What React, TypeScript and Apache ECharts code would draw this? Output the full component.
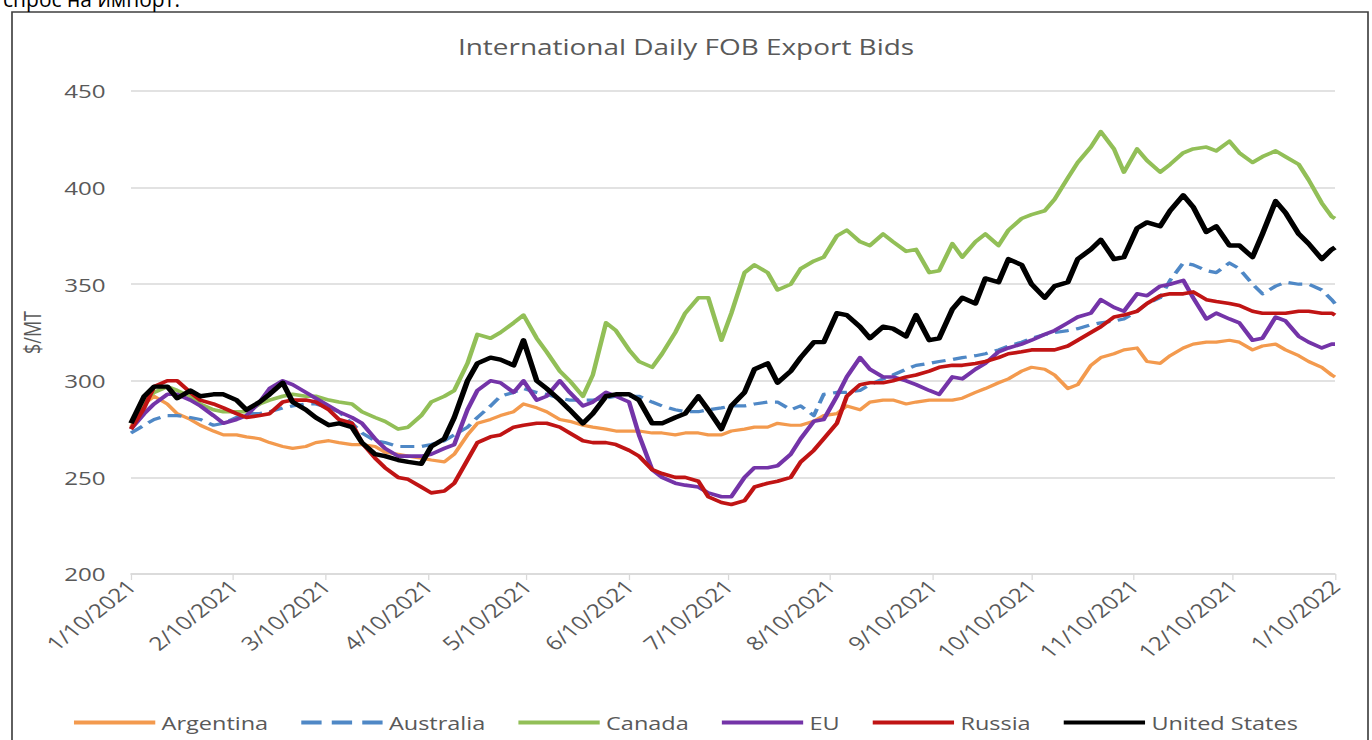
import React, { useEffect, useRef } from "react";
import * as echarts from "echarts";

const dates = [
  "2021-01-10", "2021-01-14", "2021-01-17", "2021-01-21", "2021-01-24", "2021-01-28", "2021-01-31",
  "2021-02-04", "2021-02-07", "2021-02-11", "2021-02-14", "2021-02-18", "2021-02-21", "2021-02-25", "2021-02-28",
  "2021-03-04", "2021-03-07", "2021-03-11", "2021-03-14", "2021-03-18", "2021-03-21", "2021-03-25", "2021-03-28",
  "2021-04-01", "2021-04-04", "2021-04-08", "2021-04-11", "2021-04-15", "2021-04-18", "2021-04-22", "2021-04-25", "2021-04-29",
  "2021-05-02", "2021-05-06", "2021-05-09", "2021-05-13", "2021-05-16", "2021-05-20", "2021-05-23", "2021-05-27", "2021-05-30",
  "2021-06-03", "2021-06-06", "2021-06-10", "2021-06-13", "2021-06-17", "2021-06-20", "2021-06-24", "2021-06-27",
  "2021-07-01", "2021-07-04", "2021-07-08", "2021-07-11", "2021-07-15", "2021-07-18", "2021-07-22", "2021-07-25", "2021-07-29",
  "2021-08-01", "2021-08-05", "2021-08-08", "2021-08-12", "2021-08-15", "2021-08-19", "2021-08-22", "2021-08-26", "2021-08-29",
  "2021-09-02", "2021-09-05", "2021-09-09", "2021-09-12", "2021-09-16", "2021-09-19", "2021-09-23", "2021-09-26", "2021-09-30",
  "2021-10-03", "2021-10-07", "2021-10-10", "2021-10-14", "2021-10-17", "2021-10-21", "2021-10-24", "2021-10-28", "2021-10-31",
  "2021-11-04", "2021-11-07", "2021-11-11", "2021-11-14", "2021-11-18", "2021-11-21", "2021-11-25", "2021-11-28",
  "2021-12-02", "2021-12-05", "2021-12-09", "2021-12-12", "2021-12-16", "2021-12-19", "2021-12-23", "2021-12-26", "2021-12-30",
  "2022-01-02", "2022-01-06", "2022-01-09", "2022-01-10",
];

const argentina = [
  276, 288, 292, 288, 283, 280, 277, 274, 272, 272,
  271, 270, 268, 266, 265, 266, 268, 269, 268, 267,
  267, 266, 263, 262, 261, 260, 259, 258, 262, 272,
  278, 280, 282, 284, 288, 286, 284, 280, 279, 277,
  276, 275, 274, 274, 274, 273, 273, 272, 273, 273,
  272, 272, 274, 275, 276, 276, 278, 277, 277, 279,
  282, 283, 287, 285, 289, 290, 290, 288, 289, 290,
  290, 290, 291, 294, 296, 299, 301, 305, 307, 306,
  303, 296, 298, 308, 312, 314, 316, 317, 310, 309,
  313, 317, 319, 320, 320, 321, 320, 316, 318, 319,
  316, 313, 310, 307, 303, 302,
];
const australia = [
  273, 277, 280, 282, 282, 281, 280, 277, 278, 281,
  283, 283, 284, 286, 287, 288, 288, 286, 284, 278,
  273, 269, 268, 266, 266, 266, 267, 269, 272, 276,
  281, 287, 292, 294, 296, 294, 293, 291, 290, 290,
  290, 291, 292, 292, 292, 289, 287, 285, 284, 284,
  285, 286, 287, 287, 288, 289, 289, 285, 287, 282,
  293, 294, 294, 295, 298, 301, 303, 306, 308, 309,
  310, 311, 312, 313, 314, 316, 318, 320, 322, 324,
  325, 326, 327, 329, 330, 331, 332, 336, 340, 343,
  352, 361, 360, 357, 356, 361, 358, 350, 345, 349,
  351, 350, 350, 347, 342, 340,
];
const canada = [
  278, 290, 294, 297, 295, 292, 288, 285, 284, 284,
  284, 288, 290, 292, 293, 292, 292, 290, 289, 288,
  284, 281, 279, 275, 276, 282, 289, 292, 295, 309,
  324, 322, 325, 330, 334, 322, 315, 305, 300, 292,
  303, 330, 326, 316, 310, 307, 314, 325, 335, 343,
  343, 321, 335, 356, 360, 356, 347, 350, 358, 362,
  364, 375, 378, 372, 370, 376, 372, 367, 368, 356,
  357, 371, 364, 372, 376, 370, 378, 384, 386, 388,
  394, 405, 413, 421, 429, 420, 408, 420, 414, 408,
  412, 418, 420, 421, 419, 424, 418, 413, 416, 419,
  416, 412, 404, 392, 385, 384,
];
const eu = [
  275, 283, 288, 293, 293, 290, 287, 282, 278, 280,
  282, 289, 296, 300, 298, 294, 291, 287, 284, 281,
  278, 270, 265, 261, 261, 261, 262, 265, 267, 285,
  295, 300, 299, 294, 300, 290, 292, 300, 294, 287,
  289, 294, 292, 289, 272, 254, 250, 247, 246, 245,
  242, 240, 240, 250, 255, 255, 256, 262, 270, 279,
  280, 292, 302, 312, 306, 302, 302, 300, 298, 295,
  293, 302, 301, 306, 309, 315, 317, 319, 321, 324,
  326, 330, 333, 335, 342, 338, 336, 345, 344, 349,
  350, 352, 343, 332, 335, 332, 330, 321, 322, 333,
  331, 323, 320, 317, 319, 319,
];
const russia = [
  275, 286, 297, 300, 300, 294, 290, 288, 286, 283,
  281, 282, 283, 289, 290, 290, 289, 285, 280, 278,
  268, 260, 255, 250, 249, 245, 242, 243, 247, 259,
  268, 271, 272, 276, 277, 278, 278, 276, 273, 269,
  268, 268, 267, 264, 261, 254, 252, 250, 250, 248,
  240, 237, 236, 238, 245, 247, 248, 250, 258, 264,
  270, 278, 292, 298, 299, 299, 300, 302, 303, 305,
  307, 308, 308, 309, 310, 312, 314, 315, 316, 316,
  316, 318, 321, 325, 328, 333, 334, 336, 340, 344,
  345, 345, 346, 342, 341, 340, 339, 336, 335, 335,
  335, 336, 336, 335, 335, 334,
];
const unitedStates = [
  278, 292, 297, 297, 291, 295, 292, 293, 293, 290,
  285, 289, 293, 299, 289, 285, 281, 277, 278, 276,
  268, 262, 261, 259, 258, 257, 266, 270, 281, 300,
  309, 312, 311, 308, 321, 300, 296, 290, 285, 278,
  283, 292, 293, 293, 290, 278, 278, 281, 283, 292,
  285, 275, 287, 294, 306, 309, 299, 305, 312, 320,
  320, 335, 334, 328, 322, 328, 327, 323, 334, 321,
  322, 337, 343, 340, 353, 351, 363, 360, 350, 343,
  349, 351, 363, 368, 373, 363, 364, 379, 382, 380,
  388, 396, 390, 377, 380, 370, 370, 364, 376, 393,
  387, 376, 371, 363, 368, 369,
];

const tickDates = [
  "2021-01-10", "2021-02-10", "2021-03-10", "2021-04-10", "2021-05-10", "2021-06-10", "2021-07-10",
  "2021-08-10", "2021-09-10", "2021-10-10", "2021-11-10", "2021-12-10", "2022-01-10",
];

const seriesNames = ["Argentina", "Australia", "Canada", "EU", "Russia", "United States"];
const seriesColors = ["#F39A4E", "#4F88C6", "#92BF57", "#7434A8", "#C01414", "#000000"];

// the reference picture is stretched horizontally; the chart is drawn narrower and stretched back
const STRETCH = 1372 / 1080;

function toTs(s: string): number {
  const [y, m, d] = s.split("-").map(Number);
  return new Date(y, m - 1, d).getTime();
}

export default function App() {
  const ref = useRef<HTMLDivElement>(null);
  useEffect(() => {
    const chart = echarts.init(ref.current as HTMLDivElement, null, { renderer: "svg" });
    const font = "Open Sans";
    const grey = "#595959";
    const values = [argentina, australia, canada, eu, russia, unitedStates];
    const widths = [3.2, 3.2, 3.6, 3.6, 3.6, 4.4];
    const series = seriesNames.map((name, i) => ({
      name,
      type: "line",
      data: dates.map((d, j) => [toTs(d), values[i][j]]),
      showSymbol: false,
      symbol: "none",
      lineStyle: {
        color: seriesColors[i],
        width: widths[i],
        type: i === 1 ? [11, 6] : "solid",
        join: "round",
      },
      itemStyle: { color: seriesColors[i] },
    }));
    const ticks = tickDates.map(toTs);
    const solidIcon = "path://M0,0H64V4H0Z";
    const dashIcon = "path://M0,0H16V4H0Z M24,0H40V4H24Z M48,0H64V4H48Z";
    chart.setOption({
      animation: false,
      backgroundColor: "#ffffff",
      title: {
        text: "International Daily FOB Export Bids",
        left: "center",
        top: 30,
        textStyle: { fontFamily: font, fontSize: 22, fontWeight: "normal", color: grey },
      },
      legend: {
        top: 708,
        left: "center",
        itemWidth: 64,
        itemHeight: 4,
        itemGap: 26,
        textStyle: { fontFamily: font, fontSize: 18.5, color: grey },
        data: seriesNames.map((name, i) => ({ name, icon: i === 1 ? dashIcon : solidIcon })),
      },
      grid: { left: 131 / STRETCH, right: 37 / STRETCH, top: 91, bottom: 166 },
      xAxis: {
        type: "value",
        min: ticks[0],
        max: ticks[ticks.length - 1],
        axisLine: { show: true, lineStyle: { color: "#d9d9d9", width: 1.5 } },
        axisTick: { show: true, customValues: ticks, length: 6, lineStyle: { color: "#d9d9d9" } },
        splitLine: { show: false },
        axisLabel: {
          customValues: ticks,
          rotate: 45,
          fontFamily: font,
          fontSize: 19,
          color: grey,
          margin: 9,
          formatter: (v: number) => {
            const d = new Date(v);
            return `${d.getMonth() + 1}/${d.getDate()}/${d.getFullYear()}`;
          },
        },
      },
      yAxis: {
        type: "value",
        min: 200,
        max: 450,
        interval: 50,
        name: "$/MT",
        nameLocation: "middle",
        nameGap: 69,
        nameTextStyle: { fontFamily: font, fontSize: 18, color: grey },
        axisLine: { show: false },
        axisTick: { show: false },
        splitLine: { lineStyle: { color: "#d9d9d9", width: 1.5 } },
        axisLabel: { fontFamily: font, fontSize: 19, color: grey, margin: 20 },
      },
      graphic: [
        {
          type: "rect",
          shape: { x: 12 / STRETCH, y: 12, width: 1356 / STRETCH, height: 740 },
          style: { fill: "none", stroke: "#3f3f3f", lineWidth: 1.3 },
          silent: true,
        },
        {
          type: "text",
          x: 3 / STRETCH,
          y: 9,
          scaleX: 1 / STRETCH,
          style: {
            text: "спрос на импорт.",
            font: '21px "Open Sans"',
            fill: "#000000",
            verticalAlign: "bottom",
          },
          silent: true,
        },
      ],
      series,
    });
    return () => chart.dispose();
  }, []);
  return (
    <div
      style={{ position: "fixed", left: 0, top: 0, width: 1372, height: 740, background: "#fff", overflow: "hidden" }}
    >
      <div
        ref={ref}
        style={{
          width: 1080,
          height: 740,
          transform: `scaleX(${STRETCH})`,
          transformOrigin: "left top",
        }}
      />
    </div>
  );
}
